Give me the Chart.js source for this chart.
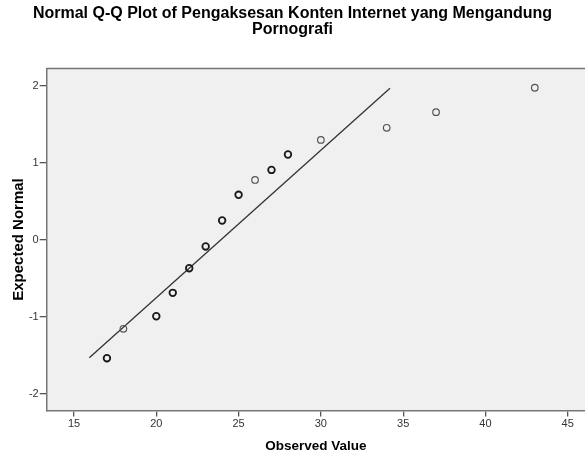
<!DOCTYPE html>
<html>
<head>
<meta charset="utf-8">
<script src="https://cdn.jsdelivr.net/npm/chart.js@4.4.1/dist/chart.umd.min.js"></script>
<style>
  html, body { margin: 0; padding: 0; background: #ffffff; }
  #wrap { width: 585px; height: 454px; }
</style>
</head>
<body>
<div id="wrap"><canvas id="c" width="585" height="454"></canvas></div>
<script>
// ---- data ----
const titleLines = ['Normal Q-Q Plot of Pengaksesan Konten Internet yang Mengandung', 'Pornografi'];
const xTitle = 'Observed Value';
const yTitle = 'Expected Normal';
const observedValues = [17, 18, 20, 21, 22, 23, 24, 25, 26, 27, 28, 30, 34, 37, 43];
const expectedNormal = [-1.535, -1.153, -0.99, -0.686, -0.366, -0.084, 0.253, 0.587, 0.78, 0.91, 1.11, 1.30, 1.457, 1.66, 1.977];
// number of cases sharing each observed value (overlapping markers look darker)
const caseCount = [2, 1, 2, 2, 2, 2, 2, 2, 1, 2, 2, 1, 1, 1, 1];
const refLineX = [15.93, 34.2];
const refLineY = [-1.53, 1.97];
const xTicks = [15, 20, 25, 30, 35, 40, 45];
const yTicks = [-2, -1, 0, 1, 2];

const FONT = "'Liberation Sans', Arial, Helvetica, sans-serif";

const plotBg = {
  id: 'plotBg',
  beforeDraw(chart) {
    const {ctx, chartArea: a} = chart;
    ctx.save();
    ctx.fillStyle = '#f0f0f0';
    ctx.fillRect(a.left, a.top, a.right - a.left, a.bottom - a.top);
    ctx.restore();
  },
  afterDraw(chart) {
    const {ctx, chartArea: a} = chart;
    ctx.save();
    ctx.strokeStyle = '#767676';
    ctx.lineWidth = 1.5;
    ctx.beginPath();
    ctx.moveTo(a.left, a.top);
    ctx.lineTo(a.right, a.top);
    ctx.stroke();
    ctx.restore();
  }
};

new Chart(document.getElementById('c'), {
  type: 'scatter',
  data: {
    datasets: [
      {
        type: 'line',
        data: refLineX.map((x, i) => ({x, y: refLineY[i]})),
        borderColor: '#333333',
        borderWidth: 1.3,
        pointRadius: 0,
        fill: false,
        order: 2
      },
      {
        data: observedValues.map((x, i) => ({x, y: expectedNormal[i]})),
        pointStyle: 'circle',
        pointRadius: 3.3,
        pointBackgroundColor: 'rgba(0,0,0,0)',
        pointBorderColor: ctx => (caseCount[ctx.dataIndex] > 1 ? '#1a1a1a' : '#555555'),
        pointBorderWidth: ctx => (caseCount[ctx.dataIndex] > 1 ? 1.8 : 1.2),
        order: 1
      }
    ]
  },
  options: {
    responsive: false,
    animation: false,
    devicePixelRatio: 1,
    layout: { autoPadding: false, padding: { left: 0, right: 0, top: 0, bottom: 0 } },
    plugins: {
      legend: { display: false },
      tooltip: { enabled: false },
      title: {
        display: true,
        text: titleLines,
        color: '#000000',
        font: { family: FONT, size: 16, weight: 'bold', lineHeight: '16px' },
        padding: { top: 6, bottom: 30.5 }
      }
    },
    scales: {
      x: {
        type: 'linear',
        min: 13.34,
        max: 46.05,
        afterBuildTicks: s => { s.ticks = xTicks.map(v => ({value: v})); },
        afterFit: s => { s.height = 43.5; },
        grid: { display: true, drawOnChartArea: false, drawTicks: true, tickLength: 6, color: '#555555', lineWidth: 1.3 },
        border: { display: true, color: '#767676', width: 1.5 },
        ticks: { color: '#333333', font: { family: FONT, size: 11 }, padding: 1, maxRotation: 0 },
        title: { display: true, text: xTitle, color: '#000000', font: { family: FONT, size: 13.5, weight: 'bold', lineHeight: 1.2 }, padding: { top: 0, bottom: 0 } }
      },
      y: {
        type: 'linear',
        min: -2.214,
        max: 2.227,
        afterBuildTicks: s => { s.ticks = yTicks.map(v => ({value: v})); },
        afterFit: s => { s.width = 46.7; },
        grid: { display: true, drawOnChartArea: false, drawTicks: true, tickLength: 7, color: '#555555', lineWidth: 1.3 },
        border: { display: true, color: '#767676', width: 1.5 },
        ticks: { color: '#333333', font: { family: FONT, size: 11 }, padding: 1 },
        title: { display: true, text: yTitle, color: '#000000', font: { family: FONT, size: 15, weight: 'bold', lineHeight: 1.2 }, padding: { top: 10, bottom: 0 } }
      }
    }
  },
  plugins: [plotBg]
});
</script>
</body>
</html>
